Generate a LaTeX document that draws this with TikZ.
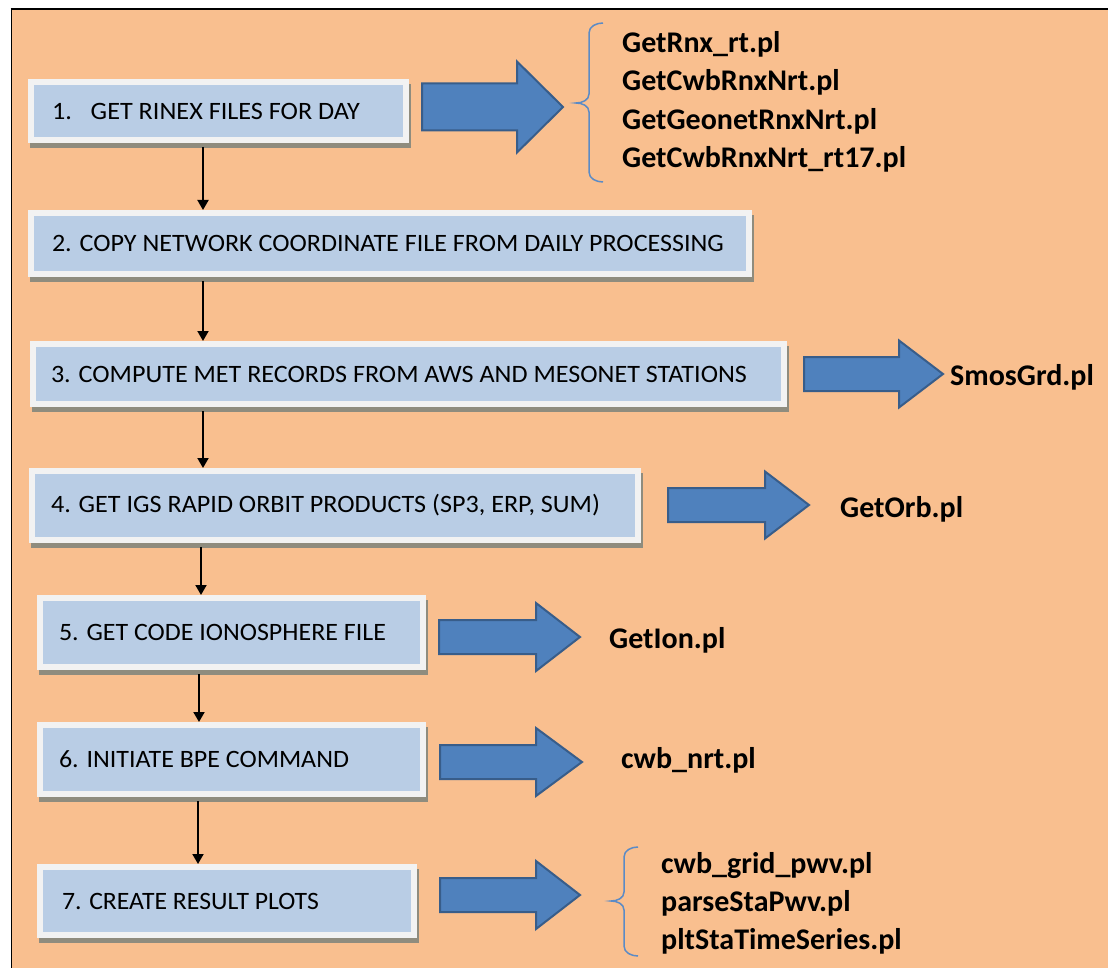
\documentclass[tikz,border=0pt]{standalone}
\usepackage{fontspec}
\setmainfont{Carlito}
\usetikzlibrary{arrows.meta,shadows}
\definecolor{bgorange}{HTML}{F9BF8F}
\definecolor{boxblue}{HTML}{B9CDE5}
\definecolor{boxrim}{HTML}{F2F2F2}
\definecolor{shadowc}{HTML}{8F8C7E}
\definecolor{arrowfill}{HTML}{4F81BD}
\definecolor{arrowedge}{HTML}{385D8A}
\definecolor{bracec}{HTML}{5B8BC6}

% box label: total width, left indent, text width, text
\newcommand\steptext[4]{\makebox[#1pt][l]{\hspace{#2pt}\resizebox{#3pt}{\height}{#4}}}
% wide block arrow: shaft start, head base, tip, centre y, shaft half height, head half height
\newcommand\blockarrow[6]{%
  \draw[blockarrow] (#1,{#4-#5}) -- (#2,{#4-#5}) -- (#2,{#4-#6}) -- (#3,#4)
    -- (#2,{#4+#6}) -- (#2,{#4+#5}) -- (#1,{#4+#5}) -- cycle;}

\begin{document}
\begin{tikzpicture}[x=1pt,y=-1pt,
  stepbox/.style={draw=boxrim, line width=6pt, fill=boxblue, outer sep=3pt,
    inner sep=0pt, anchor=north west, font=\fontsize{25}{30}\selectfont,
    drop shadow={shadow xshift=2pt, shadow yshift=-5pt, fill=shadowc,
      draw=shadowc, line width=6pt, opacity=1}},
  flow/.style={line width=1.9pt, -{Triangle[width=11pt,length=10pt]},
    shorten <=4pt},
  blockarrow/.style={fill=arrowfill, draw=arrowedge, line width=2pt,
    line join=miter},
  script/.style={anchor=base west, inner sep=0pt,
    font=\fontsize{30}{36}\selectfont\bfseries},
  bracket/.style={draw=bracec, line width=1.5pt}]

\useasboundingbox (0,0) rectangle (1108,968);
\fill[white] (0,0) rectangle (1108,968);
\fill[bgorange] (11,9) rectangle (1108,968);
\draw[line width=2.5pt] (10.5,9) -- (1108,9);
\draw[line width=1.5pt] (11.5,8) -- (11.5,968);

% processing steps
\node[stepbox, minimum width=375pt, minimum height=58pt] (b1) at (28,79)
  {\steptext{375}{21}{308}{1.\hspace{18pt}GET RINEX FILES FOR DAY}};
\node[stepbox, minimum width=718pt, minimum height=61pt] (b2) at (28,210)
  {\steptext{718}{21}{672}{2. COPY NETWORK COORDINATE FILE FROM DAILY PROCESSING}};
\node[stepbox, minimum width=751pt, minimum height=60pt] (b3) at (30,341)
  {\steptext{751}{18}{696}{3. COMPUTE MET RECORDS FROM AWS AND MESONET STATIONS}};
\node[stepbox, minimum width=606pt, minimum height=69pt] (b4) at (29,468)
  {\steptext{606}{19}{549}{4. GET IGS RAPID ORBIT PRODUCTS (SP3, ERP, SUM)}};
\node[stepbox, minimum width=383pt, minimum height=69pt] (b5) at (37,595)
  {\steptext{383}{19}{327}{5. GET CODE IONOSPHERE FILE}};
\node[stepbox, minimum width=383pt, minimum height=69pt] (b6) at (37,722)
  {\steptext{383}{19}{290}{6. INITIATE BPE COMMAND}};
\node[stepbox, minimum width=374pt, minimum height=68pt] (b7) at (37,864)
  {\steptext{374}{22}{257}{7. CREATE RESULT PLOTS}};

% sequence arrows
\draw[flow] (b1.south -| 203,0) -- (b2.north -| 203,0);
\draw[flow] (b2.south -| 203,0) -- (b3.north -| 203,0);
\draw[flow] (b3.south -| 203,0) -- (b4.north -| 203,0);
\draw[flow] (b4.south -| 201,0) -- (b5.north -| 201,0);
\draw[flow] (b5.south -| 199,0) -- (b6.north -| 199,0);
\draw[flow] (b6.south -| 198,0) -- (b7.north -| 198,0);

% block arrows to the scripts
\blockarrow{422}{517}{563}{107}{23.5}{45.5}
\blockarrow{804}{899}{943}{374}{17}{33.5}
\blockarrow{668}{765}{809}{505}{17}{33.5}
\blockarrow{439}{536}{580}{637}{17}{34}
\blockarrow{440}{536}{582}{762}{17}{34}
\blockarrow{440}{536}{580}{895}{17}{34}

% brackets
\draw[bracket] (603,23) to[out=180,in=90] (589,33) -- (589,94)
  to[out=-90,in=0] (576,103) to[out=0,in=90] (589,112) -- (589,172)
  to[out=-90,in=180] (603,182);
\draw[bracket] (638,847) to[out=180,in=90] (624,857) -- (624,892)
  to[out=-90,in=0] (611,901) to[out=0,in=90] (624,910) -- (624,946)
  to[out=-90,in=180] (638,956);

% scripts
\node[script] (s1a) at (622,53)  {GetRnx\_rt.pl};
\node[script] (s1b) at (622,91)  {GetCwbRnxNrt.pl};
\node[script] (s1c) at (622,130) {GetGeonetRnxNrt.pl};
\node[script] (s1d) at (622,168) {GetCwbRnxNrt\_rt17.pl};
\node[script] (s3)  at (950,385) {SmosGrd.pl};
\node[script] (s4)  at (840,517) {GetOrb.pl};
\node[script] (s5)  at (609,648) {GetIon.pl};
\node[script] (s6)  at (621,768) {cwb\_nrt.pl};
\node[script] (s7a) at (661,873) {cwb\_grid\_pwv.pl};
\node[script] (s7b) at (661,911) {parseStaPwv.pl};
\node[script] (s7c) at (661,949) {pltStaTimeSeries.pl};
\end{tikzpicture}
\end{document}
